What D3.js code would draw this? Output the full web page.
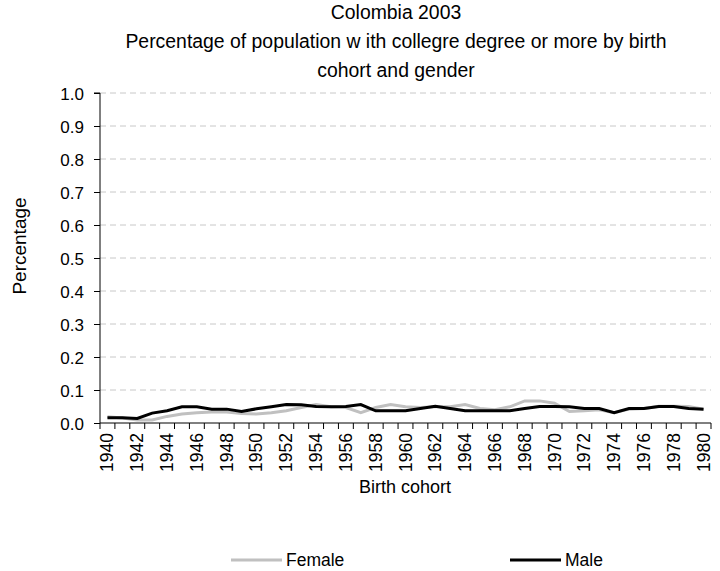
<!DOCTYPE html>
<html><head><meta charset="utf-8">
<script src="https://cdn.jsdelivr.net/npm/d3@7"></script>
<style>body{margin:0;background:#fff}svg{display:block}text{font-family:"Liberation Sans",Arial,sans-serif;fill:#000}</style>
</head><body>
<script>
const years = d3.range(1940, 1981);
const female = [0.019,0.015,0.009,0.009,0.020,0.027,0.031,0.033,0.033,0.029,0.027,0.031,0.037,0.047,
  0.056,0.049,0.047,0.031,0.047,0.056,0.049,0.047,0.049,0.049,0.056,0.044,0.040,0.049,
  0.067,0.067,0.060,0.035,0.037,0.040,0.031,0.042,0.044,0.051,0.051,0.050,0.042];
const male = [0.016,0.016,0.014,0.030,0.037,0.049,0.049,0.042,0.042,0.035,0.043,0.049,0.056,0.055,
  0.050,0.049,0.050,0.056,0.037,0.037,0.037,0.044,0.051,0.044,0.037,0.037,0.037,0.037,
  0.044,0.050,0.050,0.049,0.044,0.044,0.031,0.044,0.044,0.050,0.050,0.044,0.042];
const yTicks = d3.range(0, 11).map(i => i / 10);
const xLabels = years.filter(y => y % 2 === 0);

const W = 720, H = 571;
const m = {left: 100, right: 711, top: 93, bottom: 423};
const svg = d3.select("body").append("svg").attr("width", W).attr("height", H);

const x = d3.scaleBand().domain(years).range([m.left, m.right]);
const y = d3.scaleLinear().domain([0, 1]).range([m.bottom, m.top]);

// title
const title = ["Colombia 2003", "Percentage of population w ith collegre degree or more by birth", "cohort and gender"];
svg.selectAll(".title").data(title).enter().append("text")
  .attr("x", 396).attr("y", (d, i) => 19 + i * 29).attr("text-anchor", "middle")
  .style("font-size", "19.4px").text(d => d);

// gridlines
svg.append("g").selectAll("line").data(yTicks.filter(d => d > 0)).enter().append("line")
  .attr("x1", m.left).attr("x2", m.right).attr("y1", d => y(d)).attr("y2", d => y(d))
  .attr("stroke", "#c8c8c8").attr("stroke-dasharray", "6,4").attr("stroke-width", 1);

// y axis
const ya = svg.append("g").attr("transform", `translate(${m.left},0)`)
  .call(d3.axisLeft(y).tickValues(yTicks).tickFormat(d3.format(".1f")).tickSize(6).tickPadding(10));
ya.select(".domain").attr("stroke", "#000").attr("d", `M-6,${m.top}H0V${m.bottom}`);
ya.selectAll("text").style("font-size", "17px").attr("dy", "0.36em");

// x axis
const xa = svg.append("g").attr("transform", `translate(0,${m.bottom})`);
xa.append("line").attr("x1", m.left).attr("x2", m.right).attr("stroke", "#000");
const bounds = years.map(d => x(d)).concat([x(years[years.length - 1]) + x.bandwidth()]);
xa.selectAll(".tk").data(bounds).enter().append("line")
  .attr("x1", d => d).attr("x2", d => d).attr("y1", 0).attr("y2", 6).attr("stroke", "#000");
xa.selectAll(".lbl").data(xLabels).enter().append("text")
  .attr("transform", d => `translate(${x(d) + x.bandwidth() / 2 + 6},10) rotate(-90)`)
  .attr("text-anchor", "end").style("font-size", "17.5px").text(d => d);

// axis titles
svg.append("text").attr("transform", "translate(26,246) rotate(-90)").attr("text-anchor", "middle")
  .style("font-size", "19px").text("Percentage");
svg.append("text").attr("x", 405).attr("y", 493).attr("text-anchor", "middle")
  .style("font-size", "18px").text("Birth cohort");

// lines
const line = d3.line().x((d, i) => x(years[i]) + x.bandwidth() / 2).y(d => y(d));
svg.append("path").datum(female).attr("d", line).attr("fill", "none").attr("stroke", "#c0c0c0").attr("stroke-width", 3);
svg.append("path").datum(male).attr("d", line).attr("fill", "none").attr("stroke", "#000").attr("stroke-width", 3);

// legend
const legend = [{name: "Female", color: "#c0c0c0", x: 231}, {name: "Male", color: "#000", x: 510}];
const lg = svg.append("g").selectAll("g").data(legend).enter().append("g");
lg.append("line").attr("x1", d => d.x).attr("x2", d => d.x + 51).attr("y1", 560).attr("y2", 560)
  .attr("stroke", d => d.color).attr("stroke-width", 3);
lg.append("text").attr("x", d => d.x + 55).attr("y", 566).style("font-size", "17.5px").text(d => d.name);
</script>
</body></html>
